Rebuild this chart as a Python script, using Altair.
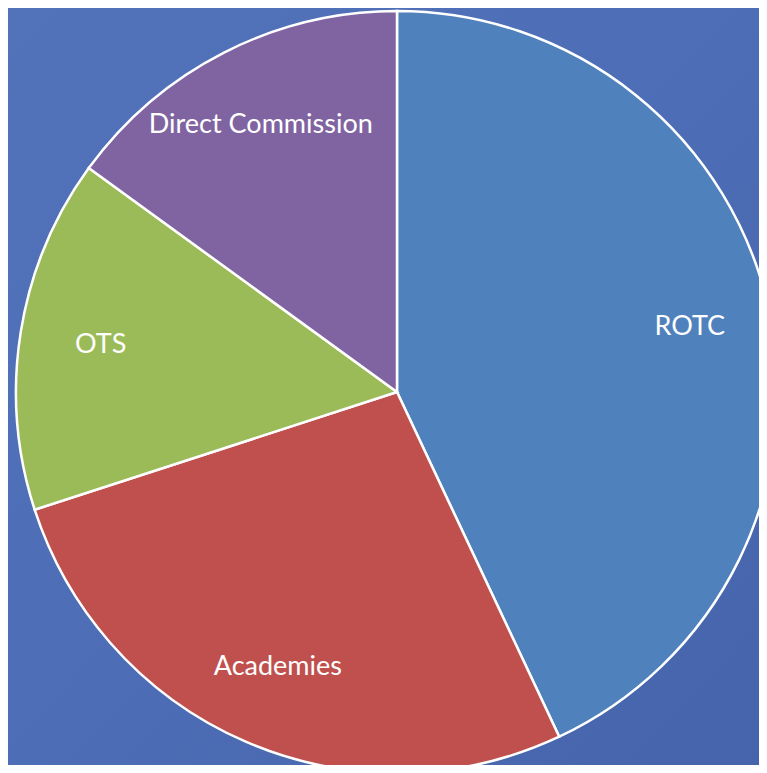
import altair as alt
import pandas as pd

categories = ["ROTC", "Academies", "OTS", "Direct Commission"]
values = [43, 27, 15, 15]
colors = ["#4F81BD", "#C0504D", "#9BBB59", "#8064A2"]

df = pd.DataFrame({"source": categories, "share": values, "order": list(range(len(categories)))})

W, H = 751, 757
CX, CY, R = 389, 384, 381

bg = alt.Chart(pd.DataFrame({"a": [0]})).mark_rect(
    color=alt.Gradient(
        gradient="linear", x1=0, y1=0, x2=1, y2=1,
        stops=[alt.GradientStop(color="#5272BA", offset=0),
               alt.GradientStop(color="#4D6DB6", offset=0.5),
               alt.GradientStop(color="#4664AB", offset=1)]
    )
).encode(x=alt.value(0), x2=alt.value(W), y=alt.value(0), y2=alt.value(H))

base = alt.Chart(df).encode(
    theta=alt.Theta("share:Q", stack=True),
    order=alt.Order("order:Q"),
)

pie = base.mark_arc(outerRadius=R, stroke="white", strokeWidth=2.5).encode(
    color=alt.Color("source:N", scale=alt.Scale(domain=categories, range=colors), legend=None),
    x=alt.value(CX), y=alt.value(CY),
)

labels = base.mark_text(radius=300, font="Lato", fontSize=27, color="white", align="center", baseline="middle").encode(
    text="source:N",
    x=alt.value(CX), y=alt.value(CY),
)

chart = alt.layer(bg, pie, labels).properties(
    width=W, height=H, padding=0, autosize=alt.AutoSizeParams(type="none"),
    background="#4D6DB6",
).configure_view(stroke=None)

chart.save("out.html", embed_options={"renderer": "svg", "actions": False})
